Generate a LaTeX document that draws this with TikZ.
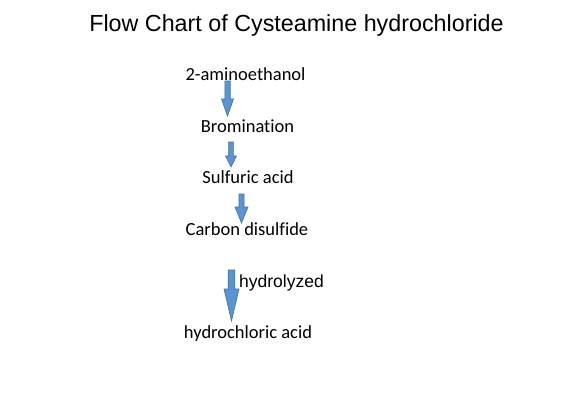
\documentclass[tikz,border=0pt]{standalone}
\usepackage{fontspec}
\setmainfont{Carlito}[Ligatures={NoCommon}]
\newfontfamily\arialfont{Liberation Sans}
\definecolor{arrowfill}{RGB}{91,148,210}
\definecolor{arrowline}{RGB}{65,113,156}
\tikzset{
  lbl/.style={inner sep=0pt, anchor=base, font=\fontsize{18.5}{20}\selectfont},
  ttl/.style={inner sep=0pt, anchor=base, font=\arialfont\fontsize{23.3}{26}\selectfont},
  side/.style={inner sep=0pt, anchor=base west, font=\arialfont\fontsize{17.5}{20}\selectfont},
  blockarrow/.style={fill=arrowfill, draw=arrowline, line width=0.6pt, line join=miter}
}
% #1 centre x, #2 top, #3 head start, #4 tip, #5 shaft half width, #6 head half width
\newcommand\myblockarrow[6]{%
  \draw[blockarrow] (#1-#5,#2) -- (#1+#5,#2) -- (#1+#5,#3) -- (#1+#6,#3) -- (#1,#4)
    -- (#1-#6,#3) -- (#1-#5,#3) -- cycle;}
\begin{document}
\begin{tikzpicture}[x=1pt,y=-1pt]
\useasboundingbox (0,0) rectangle (572,418);
\fill[white] (0,0) rectangle (572,418);
\node[ttl] (title) at (296.5,31) {Flow Chart of Cysteamine hydrochloride};
\node[lbl] (s1) at (245.5,80) {2-aminoethanol};
\node[lbl] (s2) at (247.5,132) {Bromination};
\node[lbl] (s3) at (248,183) {Sulfuric acid};
\node[lbl] (s4) at (247,235) {Carbon disulfide};
\node[lbl] (s5) at (248,338) {hydrochloric acid};
\node[side] (hyd) at (239,287) {hydrolyzed};
\myblockarrow{227.5}{81}{99}{116}{2.7}{6}
\myblockarrow{231}{142}{156}{167}{2.3}{5.5}
\myblockarrow{241.5}{194}{207}{223}{2.5}{6.5}
\myblockarrow{231.5}{270}{289}{321}{3.3}{7.5}
\end{tikzpicture}
\end{document}
